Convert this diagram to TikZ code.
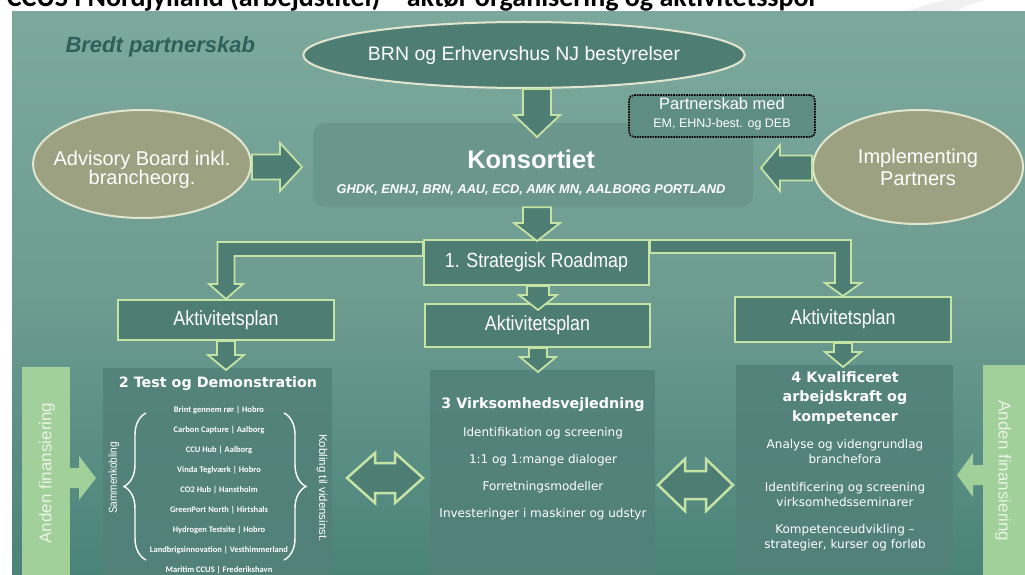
\documentclass[tikz,border=0pt]{standalone}
\usepackage{fontspec}
\setmainfont{Liberation Sans}
\newfontfamily\narrowfont[FakeStretch=0.87]{Liberation Sans}
\newfontfamily\verdfont{DejaVu Sans}
\newfontfamily\calfont{Carlito}
\usetikzlibrary{shapes.geometric,decorations.pathreplacing,calc}

\definecolor{bgtop}{HTML}{8BB5A8}
\definecolor{bgmidA}{HTML}{6E9C91}
\definecolor{bgmidB}{HTML}{4A8379}
\definecolor{bgbot}{HTML}{1F685F}
\definecolor{tealbox}{HTML}{4E7D74}
\definecolor{limeline}{HTML}{C5E3A5}
\definecolor{konsfill}{HTML}{6A968C}
\definecolor{partfill}{HTML}{5E8D83}
\definecolor{olive}{HTML}{9CA281}
\definecolor{creamline}{HTML}{E2E6CE}
\definecolor{panelfill}{HTML}{52817A}
\definecolor{fingreen}{HTML}{A1D09A}
\definecolor{fintext}{HTML}{EAF4E4}
\definecolor{headteal}{HTML}{2D605B}

\pgfdeclareverticalshading{bgshade}{100bp}{color(0bp)=(bgbot); color(25bp)=(bgmidB); color(50bp)=(bgmidA); color(100bp)=(bgtop)}

% block arrows: tail, tip, half shaft, half head, head length
\newcommand\blockdown[6][blockarrow]{\path[#1] let \p1=(#2), \p2=(#3) in
  (\x2-#4pt,\y1) -- (\x2+#4pt,\y1) -- (\x2+#4pt,\y2+#6pt) -- (\x2+#5pt,\y2+#6pt)
  -- (\x2,\y2) -- (\x2-#5pt,\y2+#6pt) -- (\x2-#4pt,\y2+#6pt) -- cycle;}
\newcommand\blockright[6][blockarrow]{\path[#1] let \p1=(#2), \p2=(#3) in
  (\x1,\y2+#4pt) -- (\x2-#6pt,\y2+#4pt) -- (\x2-#6pt,\y2+#5pt) -- (\x2,\y2)
  -- (\x2-#6pt,\y2-#5pt) -- (\x2-#6pt,\y2-#4pt) -- (\x1,\y2-#4pt) -- cycle;}
\newcommand\blockleft[6][blockarrow]{\path[#1] let \p1=(#2), \p2=(#3) in
  (\x1,\y2+#4pt) -- (\x2+#6pt,\y2+#4pt) -- (\x2+#6pt,\y2+#5pt) -- (\x2,\y2)
  -- (\x2+#6pt,\y2-#5pt) -- (\x2+#6pt,\y2-#4pt) -- (\x1,\y2-#4pt) -- cycle;}
\newcommand\blockboth[5]{\path[dblarrow] let \p1=(#1), \p2=(#2) in
  (\x1,\y1) -- (\x1+#5pt,\y1+#4pt) -- (\x1+#5pt,\y1+#3pt) -- (\x2-#5pt,\y1+#3pt)
  -- (\x2-#5pt,\y1+#4pt) -- (\x2,\y1) -- (\x2-#5pt,\y1-#4pt) -- (\x2-#5pt,\y1-#3pt)
  -- (\x1+#5pt,\y1-#3pt) -- (\x1+#5pt,\y1-#4pt) -- cycle;}

\begin{document}
\begin{tikzpicture}[x=1pt,y=-1pt,
  blockarrow/.style={fill=tealbox, draw=limeline, line width=1.8pt},
  dblarrow/.style={fill=tealbox, draw=limeline, line width=2.5pt},
  finarrow/.style={fill=fingreen},
  oval/.style={ellipse, inner sep=0pt, line width=2pt, align=center, text=white},
  planbox/.style={rectangle, fill=tealbox, draw=limeline, line width=2pt, inner sep=0pt,
    text=white, font=\narrowfont\fontsize{20.5}{24}\selectfont},
  panel/.style={rectangle, fill=panelfill, fill opacity=0.88, anchor=north west, inner sep=0pt},
  finbar/.style={rectangle, fill=fingreen, anchor=north west, inner sep=0pt},
  fintxt/.style={text=fintext, font=\fontsize{17}{20}\selectfont},
  ptitle/.style={text=white, align=center, font=\verdfont\bfseries\fontsize{14.3}{19.5}\selectfont},
  pitem/.style={text=white, align=center, font=\verdfont\fontsize{12}{15}\selectfont},
  siteitem/.style={text=white, font=\calfont\bfseries\fontsize{8.5}{10}\selectfont},
  bracel/.style={draw=white, line width=1.4pt, decorate}]
\useasboundingbox (0,0) rectangle (1025,575);
\fill[white] (0,0) rectangle (1025,575);
\fill[black!6] (905,12) .. controls (925,5) .. (945,0) -- (985,0) .. controls (965,6) .. (955,12) -- cycle;
\node[anchor=base east, font=\calfont\bfseries\fontsize{28}{30}\selectfont] (title) at (822,7)
  {CCUS i Nordjylland (arbejdstitel) – aktør organisering og aktivitetsspor};
\shade[shading=bgshade] (12,12) rectangle (1025,575);

\node[anchor=base west, text=headteal, font=\bfseries\itshape\fontsize{22}{26}\selectfont] (bredt)
  at (62,53) {Bredt partnerskab};

\node[oval, fill=tealbox, draw=creamline, minimum width=408pt, minimum height=66pt,
  font=\fontsize{19.5}{23}\selectfont] (brn) at (524,55) {BRN og Erhvervshus NJ bestyrelser};
\node[oval, fill=olive, draw=creamline, minimum width=218pt, minimum height=108pt] (adv) at (142,164) {};
\node[align=center, text=white, font=\fontsize{20}{18}\selectfont] (advT) at (142,170) {Advisory Board inkl.\\brancheorg.};
\node[oval, fill=olive, draw=creamline, minimum width=210pt, minimum height=114pt,
  font=\fontsize{20}{22}\selectfont] (impl) at (918,167) {Implementing\\Partners};

\node[rectangle, rounded corners=12pt, fill=konsfill, minimum width=440pt, minimum height=84pt] (kons) at (533,165) {};
\node[anchor=base, text=white, font=\bfseries\fontsize{25.5}{30}\selectfont] (konsT) at (531,168) {Konsortiet};
\node[anchor=base, text=white, font=\bfseries\itshape\fontsize{12.8}{15}\selectfont] (konsS) at (531,193)
  {GHDK, ENHJ, BRN, AAU, ECD, AMK MN, AALBORG PORTLAND};

\node[rectangle, rounded corners=5pt, fill=partfill, draw=black, line width=1.6pt, densely dotted,
  minimum width=186pt, minimum height=42pt] (part) at (722,116) {};
\node[anchor=base, text=white, font=\fontsize{16.5}{19}\selectfont] (partT) at (722,110) {Partnerskab med};
\node[anchor=base, text=white, font=\fontsize{12.5}{15}\selectfont] (partS) at (722,128) {EM, EHNJ-best. og DEB};

\coordinate (konsin) at (537,137);
\blockdown{brn.south}{konsin}{14}{23}{22}
\coordinate (advtip) at (302,167);
\blockright{adv.east}{advtip}{12.5}{24}{22}
\coordinate (impltip) at (761,168);
\blockleft{impl.west}{impltip}{12.5}{23}{19}

\node[planbox, minimum width=225pt, minimum height=45pt] (road) at (536.5,262.5) {1. Strategisk Roadmap};
\coordinate (roadin) at (537,241);
\blockdown{kons.south}{roadin}{14}{23}{18}

\node[planbox, minimum width=216pt, minimum height=40pt] (aktL) at (226,320) {Aktivitetsplan};
\node[planbox, minimum width=225pt, minimum height=43pt] (aktM) at (537.5,325.5) {Aktivitetsplan};
\node[planbox, minimum width=216pt, minimum height=45pt] (aktR) at (843,319.5) {Aktivitetsplan};

\draw[blockarrow] let \p1=(road.north west), \p2=(aktL.north) in
  (\x1,\y1-3pt) -- (\x2-8.5pt,\y1-3pt) -- (\x2-8.5pt,\y2+15pt) -- (\x2-17pt,\y2+15pt) -- (\x2,\y2)
  -- (\x2+17pt,\y2+15pt) -- (\x2+8.5pt,\y2+15pt) -- (\x2+8.5pt,\y1-17pt) -- (\x1,\y1-17pt) -- cycle;
\draw[blockarrow] let \p1=(road.north east), \p2=(aktR.north) in
  (\x1,\y1-1pt) -- (\x2+8pt,\y1-1pt) -- (\x2+8pt,\y2+13pt) -- (\x2+18pt,\y2+13pt) -- (\x2,\y2)
  -- (\x2-18pt,\y2+13pt) -- (\x2-8pt,\y2+13pt) -- (\x2-8pt,\y1-14pt) -- (\x1,\y1-14pt) -- cycle;
\coordinate (aktMin) at (538,310);
\blockdown{road.south}{aktMin}{11}{19}{15}

\node[panel, minimum width=229pt, minimum height=215pt] (pL) at (103,368) {};
\node[panel, minimum width=225pt, minimum height=215pt] (pM) at (430,370) {};
\node[panel, minimum width=217pt, minimum height=208pt] (pR) at (736,365) {};

\coordinate (pLin) at (226,370);
\blockdown{aktL.south}{pLin}{9}{18}{15}
\coordinate (pMin) at (538,372);
\blockdown{aktM.south}{pMin}{9}{18}{15}
\coordinate (pRin) at (843,367);
\blockdown{aktR.south}{pRin}{9}{18}{15}

\node[finbar, minimum width=48pt, minimum height=215pt] (finL) at (22,367) {};
\coordinate (finLtip) at (96,478);
\blockright[finarrow]{finL.center}{finLtip}{10}{22}{17}
\node[fintxt, rotate=90] (finLt) at (47,473) {Anden finansiering};
\node[finbar, minimum width=42pt, minimum height=215pt] (finR) at (983,365) {};
\coordinate (finRtip) at (957,475);
\blockleft[finarrow]{finR.center}{finRtip}{10}{22}{16}
\node[fintxt, rotate=-90] (finRt) at (1003,471) {Anden finansiering};

\coordinate (dLa) at (347,478);
\coordinate (dLb) at (423,478);
\blockboth{dLa}{dLb}{15}{25}{28}
\coordinate (dRa) at (658,485);
\coordinate (dRb) at (733,485);
\blockboth{dRa}{dRb}{14}{26}{27}

\node[ptitle] (tTest) at (218,384) {2 Test og Demonstration};
\foreach \site [count=\i] in {Brint gennem rør | Hobro, Carbon Capture | Aalborg, CCU Hub | Aalborg,
  Vinda Teglværk | Hobro, CO2 Hub | Hanstholm, GreenPort North | Hirtshals, Hydrogen Testsite | Hobro,
  Landbrigsinnovation | Vesthimmerland, Maritim CCUS | Frederikshavn}
  \node[siteitem] (site\i) at (219,390+20*\i) {\site};
\draw[bracel, decoration={brace, amplitude=22pt}] (146,560) -- (146,413);
\draw[bracel, decoration={brace, amplitude=22pt}] (284,413) -- (284,560);
\node[text=white, rotate=90, font=\narrowfont\fontsize{11.5}{13}\selectfont] (sam) at (114,478) {Sammenkobling};
\node[text=white, rotate=-90, font=\fontsize{11.5}{13}\selectfont] (kob) at (322,488) {Kobling til vidensinst.};

\node[ptitle] (tVirk) at (543,405) {3 Virksomhedsvejledning};
\foreach \act [count=\i] in {Identifikation og screening, 1:1 og 1:mange dialoger,
  Forretningsmodeller, Investeringer i maskiner og udstyr}
  \node[pitem] (virk\i) at (543,406+27*\i) {\act};

\node[ptitle] (tKval) at (845,398) {4 Kvalificeret\\arbejdskraft og\\kompetencer};
\node[pitem] (kval1) at (845,452) {Analyse og videngrundlag\\branchefora};
\node[pitem] (kval2) at (845,494.5) {Identificering og screening\\virksomhedsseminarer};
\node[pitem] (kval3) at (845,538) {Kompetenceudvikling –\\strategier, kurser og forløb};
\end{tikzpicture}
\end{document}
